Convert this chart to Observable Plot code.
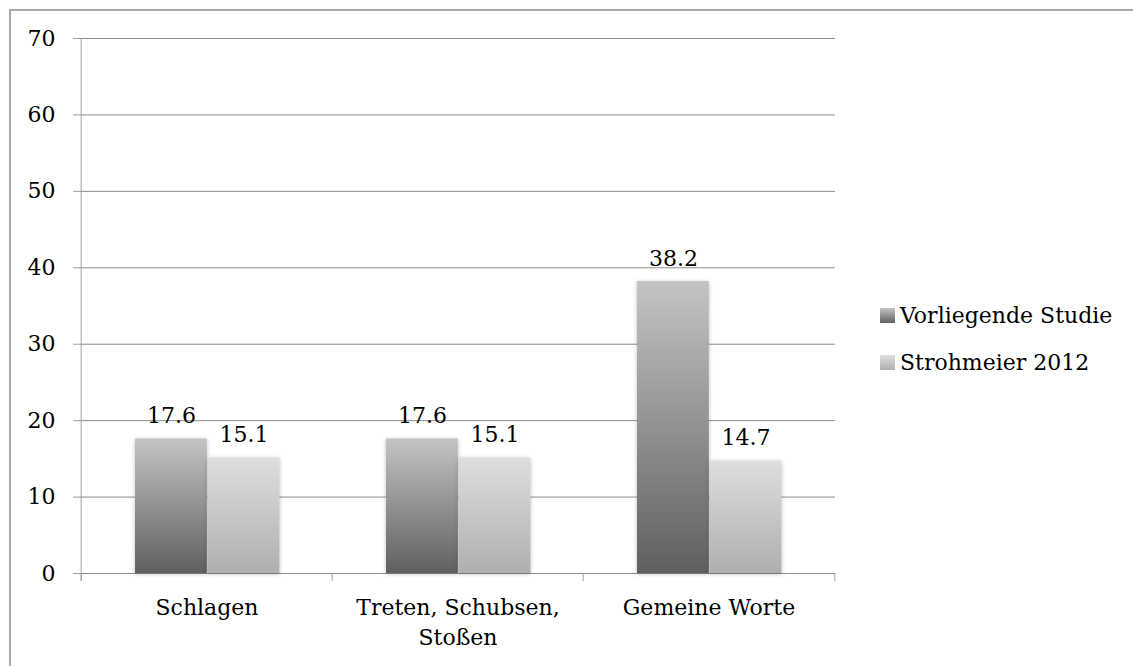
<!DOCTYPE html>
<html>
<head>
<meta charset="utf-8">
<script src="https://cdn.jsdelivr.net/npm/d3@7"></script>
<script src="https://cdn.jsdelivr.net/npm/@observablehq/plot@0.6"></script>
<style>
  html, body { margin: 0; padding: 0; background: #fff; overflow: hidden; }
  #wrap { position: relative; width: 1133px; height: 666px; font-family: "DejaVu Serif", serif; }
  #frame { position: absolute; left: 9px; top: 9px; width: 1200px; height: 700px; border: 2px solid #a8a8a8; box-sizing: border-box; }
  #chart { position: absolute; left: 0; top: 0; }
  .legend { position: absolute; left: 880px; font-size: 22px; color: #000; white-space: nowrap; }
  .legend .sw { display: inline-block; width: 15px; height: 15px; margin-right: 5px; vertical-align: 0px; }
</style>
</head>
<body>
<div id="wrap">
  <div id="frame"></div>
  <div id="chart"></div>
  <div class="legend" id="leg0" style="top:303px"><span class="sw" style="background:linear-gradient(#c4c4c4,#5f5f5f)"></span><span class="lt"></span></div>
  <div class="legend" id="leg1" style="top:350px"><span class="sw" style="background:linear-gradient(#dedede,#afafaf)"></span><span class="lt"></span></div>
</div>
<script>
// ---- data ----
const categories = ["Schlagen", "Treten, Schubsen, Stoßen", "Gemeine Worte"];
const categoryLabels = ["Schlagen", "Treten, Schubsen,\nStoßen", "Gemeine Worte"];
const seriesNames = ["Vorliegende Studie", "Strohmeier 2012"];
const vorliegende = [17.6, 17.6, 38.2];
const strohmeier = [15.1, 15.1, 14.7];
const yTicks = [0, 10, 20, 30, 40, 50, 60, 70];

const rows = [];
categories.forEach((c, i) => {
  rows.push({cat: c, series: 0, value: vorliegende[i]});
  rows.push({cat: c, series: 1, value: strohmeier[i]});
});

// ---- layout ----
const W = 1133, H = 666;
const mL = 80, mR = 298, mT = 38, mB = 93;
const bw = (W - mL - mR) / categories.length;
const outer = 54, barW = 72.5;
const c0 = outer + barW / 2 - bw / 2;          // offset of bar 1 centre from band centre
const c1 = outer + barW * 1.5 - bw / 2;        // offset of bar 2 centre
const font = "DejaVu Serif";
const fs = 22;

const plot = Plot.plot({
  width: W, height: H,
  marginLeft: mL, marginRight: mR, marginTop: mT, marginBottom: mB,
  style: {fontFamily: font, fontSize: fs + "px", color: "#000", background: "transparent", overflow: "visible"},
  x: {type: "band", domain: categories, padding: 0, axis: null},
  y: {domain: [0, 70], axis: null, label: null},
  marks: [
    Plot.ruleY(yTicks, {stroke: "#8c8c8c", strokeWidth: 1}),
    Plot.ruleX([categories[0]], {x: d => d, dx: -bw / 2, y1: -1.05, y2: 70, stroke: "#a0a0a0"}),
    Plot.ruleX(categories, {x: d => d, dx: -bw / 2, y1: -1.05, y2: 0, stroke: "#a0a0a0"}),
    Plot.ruleX([categories[categories.length - 1]], {x: d => d, dx: bw / 2, y1: -1.05, y2: 0, stroke: "#a0a0a0"}),
    Plot.axisY({ticks: yTicks, label: null, tickSize: 7, tickPadding: 18, fontSize: fs, stroke: "#a0a0a0", fill: "#000", tickFormat: d => String(d)}),
    Plot.barY(rows.filter(d => d.series === 0), {x: "cat", y: "value", fill: "url(#g0)", insetLeft: outer, insetRight: bw - outer - barW}),
    Plot.barY(rows.filter(d => d.series === 1), {x: "cat", y: "value", fill: "url(#g1)", insetLeft: outer + barW, insetRight: bw - outer - 2 * barW}),
    Plot.text(rows.filter(d => d.series === 0), {x: "cat", y: "value", text: d => d.value.toFixed(1), dx: c0, dy: -16, lineAnchor: "bottom", fontSize: fs, fill: "#000"}),
    Plot.text(rows.filter(d => d.series === 1), {x: "cat", y: "value", text: d => d.value.toFixed(1), dx: c1, dy: -16, lineAnchor: "bottom", fontSize: fs, fill: "#000"}),
    Plot.text(categories, {x: d => d, y: () => 0, text: (d, i) => categoryLabels[i], dy: 21, lineAnchor: "top", lineHeight: 1.33, fontSize: fs, fill: "#000"})
  ]
});

const svg = d3.select(plot);
const defs = svg.insert("defs", ":first-child");
function grad(id, top, bottom) {
  const g = defs.append("linearGradient").attr("id", id).attr("x1", 0).attr("y1", 0).attr("x2", 0).attr("y2", 1);
  g.append("stop").attr("offset", "0%").attr("stop-color", top);
  g.append("stop").attr("offset", "100%").attr("stop-color", bottom);
}
grad("g0", "#c4c4c4", "#5f5f5f");
grad("g1", "#dedede", "#afafaf");
svg.selectAll("g[aria-label='bar']").style("filter", "drop-shadow(0px 1px 2px rgba(0,0,0,0.25))");

document.getElementById("chart").appendChild(plot);
document.querySelector("#leg0 .lt").textContent = seriesNames[0];
document.querySelector("#leg1 .lt").textContent = seriesNames[1];
</script>
</body>
</html>
